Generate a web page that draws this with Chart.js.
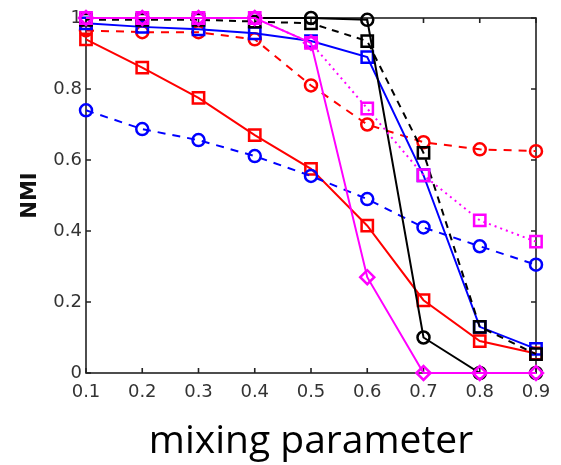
<!DOCTYPE html>
<html>
<head>
<meta charset="utf-8">
<script src="https://cdn.jsdelivr.net/npm/chart.js@4"></script>
<style>
html,body{margin:0;padding:0;background:#fff;}
#wrap{width:561px;height:465px;}
</style>
</head>
<body>
<div id="wrap"><canvas id="c" width="561" height="465"></canvas></div>
<script>
const mixing = [0.1, 0.2, 0.3, 0.4, 0.5, 0.6, 0.7, 0.8, 0.9];
const redSolidSquares = [0.94, 0.86, 0.775, 0.67, 0.575, 0.415, 0.205, 0.09, 0.055];
const redDashedCircles = [0.965, 0.96, 0.96, 0.94, 0.81, 0.70, 0.65, 0.63, 0.625];
const blueDashedCircles = [0.74, 0.687, 0.656, 0.611, 0.555, 0.49, 0.41, 0.357, 0.305];
const blueSolidSquares = [0.985, 0.975, 0.968, 0.957, 0.935, 0.89, 0.557, 0.13, 0.068];
const blackDashedSquares = [0.995, 0.995, 0.995, 0.99, 0.985, 0.935, 0.62, 0.13, 0.053];
const blackSolidCircles = [1, 1, 1, 1, 1, 0.995, 0.1, 0, 0];
const magentaDottedSquares = [1, 1, 1, 1, 0.93, 0.745, 0.557, 0.43, 0.37];
const magentaSolidDiamonds = [1, 1, 1, 1, 0.93, 0.27, 0, 0, 0];
const xTicks = [0.1, 0.2, 0.3, 0.4, 0.5, 0.6, 0.7, 0.8, 0.9];
const yTicks = [0, 0.2, 0.4, 0.6, 0.8, 1];

function pts(vals){ return vals.map((v,i)=>({x: mixing[i], y: v})); }

function ds(vals, color, style, dash, radius, order){
  return {
    data: pts(vals),
    borderColor: color,
    backgroundColor: 'rgba(255,255,255,0)',
    borderWidth: 2,
    borderDash: dash,
    pointStyle: style,
    pointRadius: radius,
    pointBorderWidth: 2.5,
    pointBorderColor: color,
    pointBackgroundColor: 'rgba(255,255,255,0)',
    tension: 0,
    clip: false,
    order: order
  };
}

const datasets = [
  ds(magentaDottedSquares, '#ff00ff', 'rect', [2,4], 8, 1),
  ds(magentaSolidDiamonds, '#ff00ff', 'rectRot', [], 7, 2),
  ds(blackDashedSquares, '#000000', 'rect', [7,6], 8, 3),
  ds(blackSolidCircles, '#000000', 'circle', [], 6, 4),
  ds(blueSolidSquares, '#0000ff', 'rect', [], 8, 5),
  ds(blueDashedCircles, '#0000ff', 'circle', [8,7], 6, 6),
  ds(redDashedCircles, '#ff0000', 'circle', [8,7], 6, 7),
  ds(redSolidSquares, '#ff0000', 'rect', [], 8, 8)
];

const boxPlugin = {
  id: 'box',
  beforeDatasetsDraw(chart){
    const {ctx, chartArea: a, scales: {x, y}} = chart;
    ctx.save();
    ctx.strokeStyle = '#222';
    ctx.lineWidth = 1.6;
    ctx.strokeRect(a.left, a.top, a.right - a.left, a.bottom - a.top);
    const L = 5;
    ctx.beginPath();
    xTicks.forEach(v => {
      const px = x.getPixelForValue(v);
      ctx.moveTo(px, a.bottom); ctx.lineTo(px, a.bottom - L);
      ctx.moveTo(px, a.top); ctx.lineTo(px, a.top + L);
    });
    yTicks.forEach(v => {
      const py = y.getPixelForValue(v);
      ctx.moveTo(a.left, py); ctx.lineTo(a.left + L, py);
      ctx.moveTo(a.right, py); ctx.lineTo(a.right - L, py);
    });
    ctx.stroke();
    ctx.restore();
  }
};

new Chart(document.getElementById('c'), {
  type: 'line',
  data: { datasets },
  plugins: [boxPlugin],
  options: {
    responsive: false,
    animation: false,
    events: [],
    layout: { padding: { top: 18, right: 25, left: 0, bottom: 0 } },
    plugins: { legend: { display: false }, tooltip: { enabled: false } },
    scales: {
      x: {
        type: 'linear', min: 0.1, max: 0.9,
        afterBuildTicks: s => { s.ticks = xTicks.map(v => ({value: v})); },
        afterFit: s => { s.height = 92; },
        grid: { display: false, drawTicks: false },
        border: { display: false },
        ticks: {
          padding: 9, color: '#333',
          font: { family: 'DejaVu Sans, sans-serif', size: 18 },
          callback: v => Number(v).toFixed(1), maxRotation: 0, autoSkip: false
        },
        title: {
          display: true, text: 'mixing parameter', color: '#000',
          font: { family: 'Open Sans, sans-serif', size: 39 },
          padding: { top: 7, bottom: 0 }
        }
      },
      y: {
        type: 'linear', min: 0, max: 1,
        afterBuildTicks: s => { s.ticks = yTicks.map(v => ({value: v})); },
        afterFit: s => { s.width = 86; },
        grid: { display: false, drawTicks: false },
        border: { display: false },
        ticks: {
          padding: 4, color: '#333',
          font: { family: 'DejaVu Sans, sans-serif', size: 18 },
          callback: v => String(Number(v.toFixed(1)))
        },
        title: {
          display: true, text: 'NMI', color: '#111',
          font: { family: 'DejaVu Sans, sans-serif', size: 21, weight: 'bold' },
          padding: { top: 18, bottom: 0 }
        }
      }
    }
  }
});
</script>
</body>
</html>
